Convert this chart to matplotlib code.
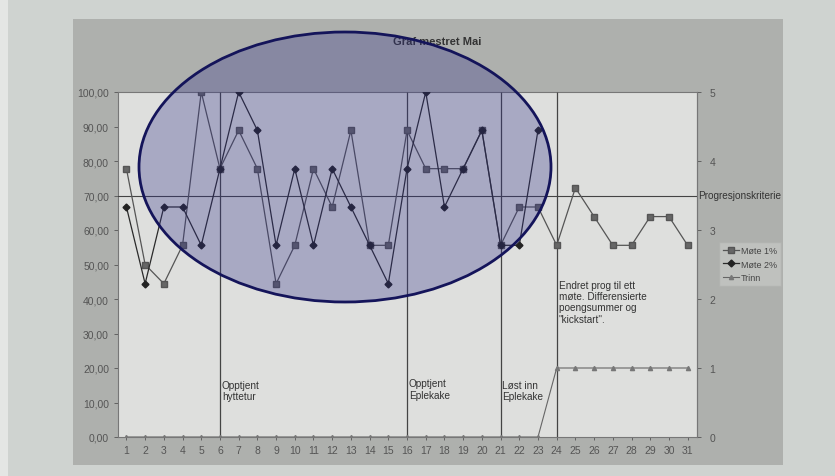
import matplotlib.pyplot as plt
from matplotlib.patches import Ellipse, Rectangle
import numpy as np

plt.rcParams['font.family'] = ['Liberation Sans', 'DejaVu Sans']

# Registreringer for mai
dager = list(range(1, 32))
mote1 = [77.78, 50.00, 44.44, 55.56, 100.00, 77.78, 88.89, 77.78, 44.44, 55.56,
         77.78, 66.67, 88.89, 55.56, 55.56, 88.89, 77.78, 77.78, 77.78, 88.89,
         55.56, 66.67, 66.67, 55.56, 72.22, 63.89, 55.56, 55.56, 63.89, 63.89,
         55.56]
mote2 = [66.67, 44.44, 66.67, 66.67, 55.56, 77.78, 100.00, 88.89, 55.56, 77.78,
         55.56, 77.78, 66.67, 55.56, 44.44, 77.78, 100.00, 66.67, 77.78, 88.89,
         55.56, 55.56, 88.89]
trinn = [0, 0, 0, 0, 0, 0, 0, 0, 0, 0, 0, 0, 0, 0, 0, 0, 0, 0, 0, 0, 0, 0, 0,
         1, 1, 1, 1, 1, 1, 1, 1]
kriterie = 70

hendelser = [6, 16, 21, 24]
hendelse_tekst = ["Opptjent\nhyttetur", "Opptjent\nEplekake", "Løst inn\nEplekake",
                  "Endret prog til ett\nmøte. Differensierte\npoengsummer og\n\"kickstart\"."]
tekst_hoyde = [16.5, 17, 16.5, 45.5]

W, H = 835, 477
fig = plt.figure(figsize=(W / 100, H / 100), dpi=100)
fig.patch.set_facecolor('#cfd3d0')

def boks(x0, y0, x1, y1, farge):
    # rektangel i pikselkoordinater (y fra toppen)
    fig.patches.append(Rectangle((x0 / W, 1 - y1 / H), (x1 - x0) / W, (y1 - y0) / H,
                                 transform=fig.transFigure, facecolor=farge,
                                 edgecolor='none', zorder=-5))

boks(0, 0, 8, H, '#e4e6e4')
boks(73, 20, 783, 466, '#aeb0ad')

ax = fig.add_axes([118 / W, 1 - 438 / H, (697 - 118) / W, (438 - 93) / H])
ax.set_facecolor('#dedfdd')
ax.plot(dager, mote1, color='#555555', lw=0.9, marker='s', ms=5,
        mfc='#666666', mec='#555555', label='Møte 1%', zorder=4)
ax.plot(dager[:len(mote2)], mote2, color='#2a2a2a', lw=0.9, marker='D', ms=3.5,
        mfc='#222222', mec='#222222', label='Møte 2%', zorder=5)
ax.axhline(kriterie, color='#444444', lw=0.8, zorder=3)
ax.vlines(hendelser, 0, 100, color='#444444', lw=0.9, zorder=3)
for x, tekst, y in zip(hendelser, hendelse_tekst, tekst_hoyde):
    ax.text(x + 0.1, y, tekst, fontsize=7.2, color='#333333', va='top', ha='left',
            linespacing=1.15, zorder=6)

ax.set_xlim(0.55, 31.5)
ax.set_ylim(0, 100)
ax.set_xticks(dager)
ax.set_xticklabels([str(d) for d in dager])
ax.set_yticks(np.arange(0, 101, 10))
ax.set_yticklabels([f"{v:.2f}".replace('.', ',') for v in np.arange(0, 101, 10)])
ax.tick_params(axis='both', labelsize=7.5, colors='#555555', length=3, width=0.6)
ax.tick_params(axis='x', length=2, pad=4)
for s in ax.spines.values():
    s.set_color('#777777')
    s.set_linewidth(0.8)

ax2 = ax.twinx()
ax2.plot(dager, trinn, color='#666666', lw=0.8, marker='^', ms=3,
         mfc='#777777', mec='#777777', label='Trinn', zorder=4)
ax2.set_ylim(0, 5)
ax2.set_yticks(range(6))
ax2.tick_params(axis='y', labelsize=7.5, colors='#555555', length=3, width=0.6, pad=6)
for s in ax2.spines.values():
    s.set_visible(False)
ax2.spines['right'].set_visible(True)
ax2.spines['right'].set_color('#777777')
ax2.text(31.55, kriterie / 20, "Progresjonskriterie", fontsize=7.2, color='#333333',
         va='center', ha='left', clip_on=False)

fig.text(437 / W, 1 - 42 / H, "Graf mestret Mai", fontsize=8, fontweight='bold',
         color='#333333', ha='center', va='center')

linjer = ax.get_lines()[:2] + ax2.get_lines()[:1]
leg = fig.legend(linjer, [l.get_label() for l in linjer], loc='center',
                 bbox_to_anchor=(750 / W, 1 - 265 / H), fontsize=6.5, frameon=True,
                 handlelength=1.8, handletextpad=0.2, borderpad=0.4, labelspacing=0.5,
                 fancybox=False)
leg.get_frame().set_facecolor('#c4c6c3')
leg.get_frame().set_edgecolor('#b0b2af')
for t in leg.get_texts():
    t.set_color('#444444')

# markering over den første perioden
fig.patches.append(Ellipse((345 / W, 1 - 168 / H), 412 / W, 270 / H,
                           transform=fig.transFigure, facecolor='#2e2e8a', alpha=0.3,
                           edgecolor='none', zorder=10))
fig.patches.append(Ellipse((345 / W, 1 - 168 / H), 412 / W, 270 / H,
                           transform=fig.transFigure, facecolor='none',
                           edgecolor='#14145a', lw=2, zorder=11))

fig.savefig('out.png', dpi=100)
